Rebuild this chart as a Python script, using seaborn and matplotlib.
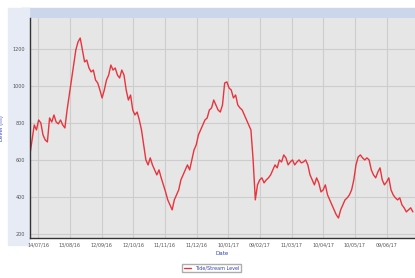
import pandas as pd
import matplotlib.pyplot as plt
import matplotlib.dates as mdates
from matplotlib.patches import Rectangle
import seaborn as sns

# Level readings
start_date = '2016-07-06'
end_date = '2017-07-04'
levels = [627, 708, 789, 762, 816, 800, 735, 708, 697, 827, 805, 843, 805, 795, 816, 789,
          773, 870, 951, 1032, 1113, 1195, 1238, 1259, 1195, 1130, 1140, 1097, 1076, 1086,
          1032, 1016, 978, 935, 978, 1032, 1059, 1113, 1086, 1097, 1059, 1043, 1086, 1059,
          978, 924, 951, 870, 843, 859, 816, 762, 681, 600, 573, 611, 573, 546, 519, 546,
          503, 465, 427, 384, 357, 330, 384, 411, 438, 492, 519, 546, 573, 546, 600, 654,
          681, 735, 762, 789, 816, 827, 870, 881, 924, 897, 870, 859, 897, 1016, 1022, 989,
          978, 935, 951, 897, 881, 870, 843, 816, 789, 762, 600, 384, 465, 492, 503, 476,
          492, 503, 519, 546, 573, 557, 600, 589, 627, 611, 573, 589, 600, 573, 589, 600,
          584, 589, 600, 573, 519, 492, 465, 503, 476, 427, 438, 465, 411, 384, 357, 330,
          303, 286, 330, 357, 384, 395, 411, 438, 492, 573, 616, 627, 611, 600, 611, 600,
          546, 519, 503, 535, 557, 492, 465, 481, 503, 438, 411, 395, 384, 395, 357, 341,
          319, 330, 341, 319]

tick_dates = ['2016-07-14', '2016-08-13', '2016-09-12', '2016-10-12', '2016-11-11',
              '2016-12-11', '2017-01-10', '2017-02-09', '2017-03-11', '2017-04-10',
              '2017-05-10', '2017-06-09']
y_ticks = [200, 400, 600, 800, 1000, 1200]

df = pd.DataFrame({
    'Date': pd.date_range(start_date, end_date, periods=len(levels)),
    'Level': levels,
})

sns.set_style('white')
plt.rcParams['font.family'] = ['DejaVu Sans']

fig = plt.figure(figsize=(4.15, 2.78), dpi=100)
# light blue frame bands like the original widget, kept behind the axes
fig.patches.append(Rectangle((0.05, 0.935), 0.95, 0.035, transform=fig.transFigure,
                             color='#cbd6ec', zorder=-5))
fig.patches.append(Rectangle((0.02, 0.12), 0.05, 0.85, transform=fig.transFigure,
                             color='#e6ebf6', zorder=-5))

ax = fig.add_axes([0.072, 0.144, 0.928, 0.791])
ax.set_facecolor('#e6e6e6')
sns.lineplot(x='Date', y='Level', data=df, color='#e8343c', linewidth=1.0, ax=ax,
             label='Tide/Stream Level', legend=False)

ax.set_xlim(pd.Timestamp('2016-07-06'), pd.Timestamp('2017-07-06'))
ax.set_ylim(178, 1367)
ax.set_yticks(y_ticks)
ax.set_yticklabels([str(v) for v in y_ticks])
ax.set_xticks(pd.to_datetime(tick_dates))
ax.xaxis.set_major_formatter(mdates.DateFormatter('%d/%m/%y'))
ax.xaxis.set_minor_locator(mdates.DayLocator(interval=4))
ax.tick_params(axis='both', labelsize=3.5, colors='#555555', length=2, width=0.5, pad=1.5)
ax.tick_params(axis='x', which='minor', length=1.2, width=0.4, colors='#777777')
ax.grid(True, color='#cdcdcd', linewidth=0.8)
for side in ['top', 'right']:
    ax.spines[side].set_visible(False)
for side in ['left', 'bottom']:
    ax.spines[side].set_color('#333333')
    ax.spines[side].set_linewidth(1.0)

ax.set_xlabel('Date', fontsize=4, color='#3344bb', labelpad=2)
ax.set_ylabel('Level (m)', fontsize=4, color='#3344bb', labelpad=6)

fig.legend(loc='center', bbox_to_anchor=(0.51, 0.035), fontsize=3.5, frameon=True,
           handlelength=1.5, borderpad=0.3, labelcolor='#3344bb', edgecolor='#999999',
           fancybox=False)

plt.savefig('out.png', dpi=100)
